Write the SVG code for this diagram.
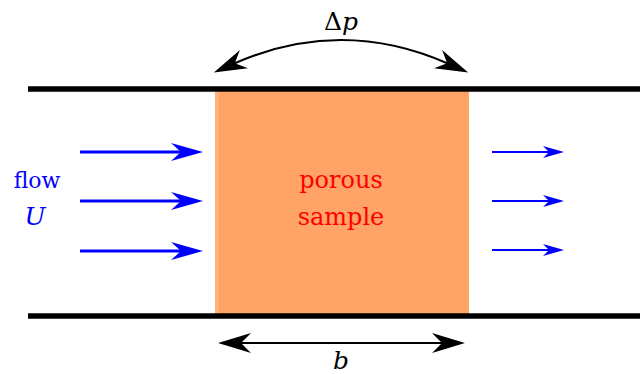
<svg xmlns="http://www.w3.org/2000/svg" width="640" height="374" viewBox="0 0 640 374">
<style>
.pipe{stroke:#000;stroke-width:5.5;fill:none}
.flowL{stroke:#0000FF;stroke-width:3.2;fill:none}
.flowS{stroke:#0000FF;stroke-width:2.2;fill:none}
.dim{stroke:#000;stroke-width:2;fill:none}
text{font-family:'DejaVu Serif',serif}
.it{font-style:italic}
</style>
<defs>
<marker id="hb" markerUnits="userSpaceOnUse" viewBox="-33 -10 34 20" markerWidth="34" markerHeight="20" refX="-20" refY="0" orient="auto">
<path d="M0,0 L-32,-9 L-22,0 L-32,9 Z" fill="#0000FF"/>
</marker>
<marker id="hs" markerUnits="userSpaceOnUse" viewBox="-22 -7 23 14" markerWidth="23" markerHeight="14" refX="-13" refY="0" orient="auto">
<path d="M0,0 L-21,-6 L-15,0 L-21,6 Z" fill="#0000FF"/>
</marker>
<marker id="hk" markerUnits="userSpaceOnUse" viewBox="-34 -11 35 22" markerWidth="35" markerHeight="22" refX="-21" refY="0" orient="auto-start-reverse">
<path d="M0,0 L-33,-10 L-23,0 L-33,10 Z" fill="#000"/>
</marker>
</defs>
<g id="sample">
<rect x="215" y="90" width="254" height="224" fill="#FFA366"/>
<rect x="215" y="90" width="4" height="224" fill="#FFB27D"/>
<text x="341" y="188" font-size="24" fill="#FF0000" text-anchor="middle">porous</text>
<text x="341" y="225" font-size="24" fill="#FF0000" text-anchor="middle">sample</text>
</g>
<g id="pipe">
<line class="pipe" x1="28" y1="89" x2="640" y2="89"/>
<line class="pipe" x1="28" y1="316" x2="640" y2="316"/>
</g>
<g id="inflow">
<text x="37" y="188" font-size="22" fill="#0000FF" text-anchor="middle">flow</text>
<text class="it" x="35" y="225" font-size="25" fill="#0000FF" text-anchor="middle">U</text>
</g>
<g id="connectors">
<line class="flowL" x1="80" y1="152" x2="183" y2="152" marker-end="url(#hb)"/>
<line class="flowL" x1="80" y1="201" x2="183" y2="201" marker-end="url(#hb)"/>
<line class="flowL" x1="80" y1="251" x2="183" y2="251" marker-end="url(#hb)"/>
<line class="flowS" x1="492" y1="152" x2="551" y2="152" marker-end="url(#hs)"/>
<line class="flowS" x1="492" y1="201" x2="551" y2="201" marker-end="url(#hs)"/>
<line class="flowS" x1="492" y1="250" x2="551" y2="250" marker-end="url(#hs)"/>
<path class="dim" d="M233,64 Q341,16 449,64" marker-start="url(#hk)" marker-end="url(#hk)"/>
<line class="dim" x1="239" y1="343" x2="444" y2="343" marker-start="url(#hk)" marker-end="url(#hk)"/>
</g>
<g id="labels">
<text x="341" y="30" font-size="25" text-anchor="middle">Δ<tspan class="it">p</tspan></text>
<text class="it" x="341" y="369" font-size="25" text-anchor="middle">b</text>
</g>
</svg>
